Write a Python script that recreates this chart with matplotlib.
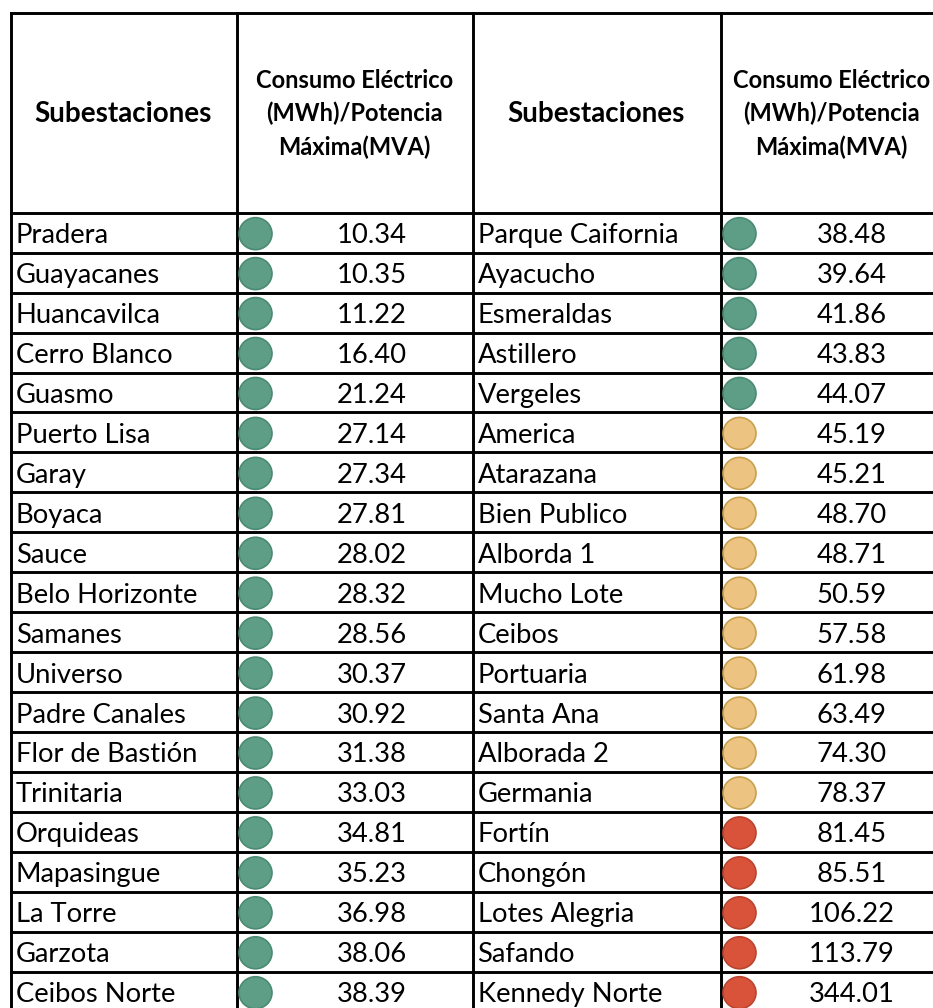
import matplotlib.pyplot as plt
from matplotlib.patches import Ellipse

# Data
left_names = ["Pradera", "Guayacanes", "Huancavilca", "Cerro Blanco", "Guasmo",
              "Puerto Lisa", "Garay", "Boyaca", "Sauce", "Belo Horizonte",
              "Samanes", "Universo", "Padre Canales", "Flor de Bastión", "Trinitaria",
              "Orquideas", "Mapasingue", "La Torre", "Garzota", "Ceibos Norte"]
left_values = [10.34, 10.35, 11.22, 16.40, 21.24, 27.14, 27.34, 27.81, 28.02, 28.32,
               28.56, 30.37, 30.92, 31.38, 33.03, 34.81, 35.23, 36.98, 38.06, 38.39]
right_names = ["Parque Caifornia", "Ayacucho", "Esmeraldas", "Astillero", "Vergeles",
               "America", "Atarazana", "Bien Publico", "Alborda 1", "Mucho Lote",
               "Ceibos", "Portuaria", "Santa Ana", "Alborada 2", "Germania",
               "Fortín", "Chongón", "Lotes Alegria", "Safando", "Kennedy Norte"]
right_values = [38.48, 39.64, 41.86, 43.83, 44.07, 45.19, 45.21, 48.70, 48.71, 50.59,
                57.58, 61.98, 63.49, 74.30, 78.37, 81.45, 85.51, 106.22, 113.79, 344.01]
header_name = "Subestaciones"
header_value = "Consumo Eléctrico\n(MWh)/Potencia\nMáxima(MVA)"

# Traffic-light icons: (fill, edge)
green = ("#5e9d86", "#4b8a73")
amber = ("#ecc380", "#c9a050")
red = ("#d9533a", "#b9452f")


def status(v):
    if v < 45:
        return green
    if v < 80:
        return amber
    return red


plt.rcParams['font.family'] = ['Lato', 'DejaVu Sans']

W, H = 933, 1008
fig = plt.figure(figsize=(W / 100, H / 100), dpi=100)
ax = fig.add_axes([0, 0, 1, 1])
ax.set_xlim(0, W)
ax.set_ylim(H, 0)
ax.axis('off')

# Layout (pixel units)
top, head_bot, row_h = 13, 212.7, 39.95
col_x = [11, 236.5, 472.5, 720.5]
lw = 2.1

# Grid lines
ax.plot([col_x[0], W], [top, top], color='black', lw=lw, solid_capstyle='projecting')
for x in col_x:
    ax.plot([x, x], [top, H + 5], color='black', lw=lw)
for k in range(21):
    y = head_bot + k * row_h
    ax.plot([col_x[0], W], [y, y], color='black', lw=lw)

# Headers
head_mid = (top + head_bot) / 2 + 1
ax.text((col_x[0] + col_x[1]) / 2 - 1, head_mid, header_name, ha='center', va='center',
        fontsize=20, fontweight='bold')
ax.text((col_x[2] + col_x[3]) / 2 - 1, head_mid, header_name, ha='center', va='center',
        fontsize=20, fontweight='bold')
ax.text((col_x[1] + col_x[2]) / 2, head_mid, header_value, ha='center', va='center',
        fontsize=17, fontweight='bold', linespacing=1.5)
ax.text(col_x[3] + 111, head_mid, header_value, ha='center', va='center',
        fontsize=17, fontweight='bold', linespacing=1.5)

# Rows
for names, values, nx, vx, voff in [(left_names, left_values, col_x[0], col_x[1], 135),
                                     (right_names, right_values, col_x[2], col_x[3], 131)]:
    for i, (n, v) in enumerate(zip(names, values)):
        y0 = head_bot + i * row_h
        yb = y0 + row_h - 9.5
        ax.text(nx + 5, yb, n, ha='left', va='baseline', fontsize=19.7)
        ax.text(vx + voff, yb, f"{v:.2f}", ha='center', va='baseline', fontsize=19.7)
        fc, ec = status(v)
        ax.add_patch(Ellipse((vx + 19, y0 + row_h / 2 + 1), 33, 32,
                             facecolor=fc, edgecolor=ec, lw=1.2, zorder=3))

fig.savefig("out.png", dpi=100)
